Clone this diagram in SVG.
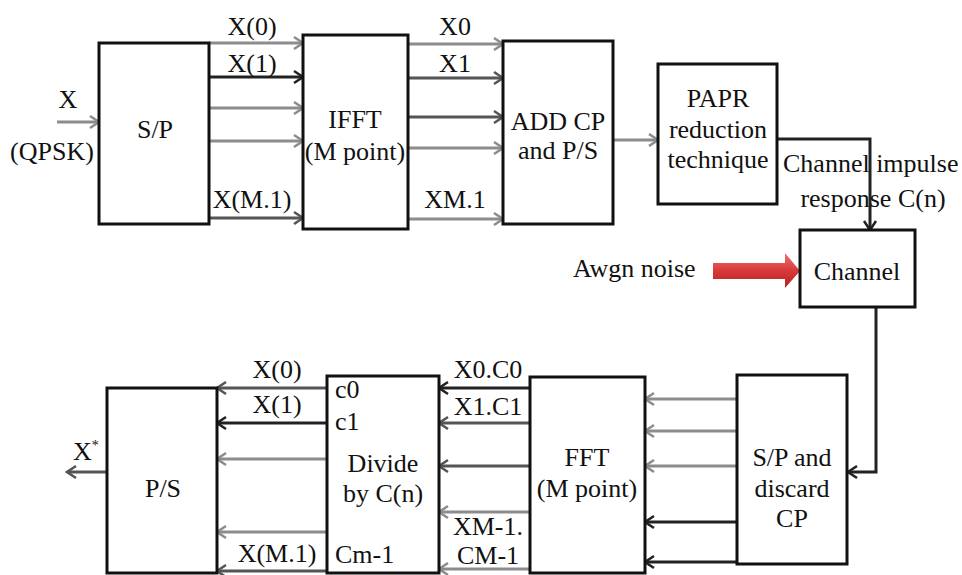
<svg xmlns="http://www.w3.org/2000/svg" width="962" height="575" viewBox="0 0 962 575">
<style>
  .box { fill: #ffffff; stroke: #111111; stroke-width: 3; }
  .t { font-family: "Liberation Serif", "Times New Roman", serif; font-size: 26px; fill: #111111; }
  .m { text-anchor: middle; }
  .g { stroke: #8c8c8c; stroke-width: 3; fill: none; marker-end: url(#ag); }
  .k { stroke: #222222; stroke-width: 3; fill: none; marker-end: url(#ak); }
  .d { stroke: #555555; stroke-width: 3; fill: none; marker-end: url(#ad); }
</style>
<defs>
  <marker id="ag" markerUnits="userSpaceOnUse" markerWidth="14" markerHeight="16" refX="12" refY="8" orient="auto">
    <path d="M3,2 L12,8 L3,14" fill="none" stroke="#8c8c8c" stroke-width="2.5"/>
  </marker>
  <marker id="ak" markerUnits="userSpaceOnUse" markerWidth="14" markerHeight="16" refX="12" refY="8" orient="auto">
    <path d="M3,2 L12,8 L3,14" fill="none" stroke="#222222" stroke-width="2.5"/>
  </marker>
  <marker id="ad" markerUnits="userSpaceOnUse" markerWidth="14" markerHeight="16" refX="12" refY="8" orient="auto">
    <path d="M3,2 L12,8 L3,14" fill="none" stroke="#555555" stroke-width="2.5"/>
  </marker>
  <linearGradient id="red" x1="0" y1="0" x2="0" y2="1">
    <stop offset="0" stop-color="#ef7272"/>
    <stop offset="0.5" stop-color="#d93a3a"/>
    <stop offset="1" stop-color="#b51f22"/>
  </linearGradient>
</defs>

<g id="connectors">
  <line class="g" x1="57" y1="122" x2="99" y2="122"/>
  <line class="g" x1="209" y1="43" x2="303" y2="43"/>
  <line class="k" x1="209" y1="77" x2="303" y2="77"/>
  <line class="g" x1="209" y1="108" x2="303" y2="108"/>
  <line class="g" x1="209" y1="141" x2="303" y2="141"/>
  <line class="d" x1="209" y1="218" x2="303" y2="218"/>
  <line class="g" x1="408" y1="44" x2="503" y2="44"/>
  <line class="d" x1="408" y1="78" x2="503" y2="78"/>
  <line class="d" x1="408" y1="117" x2="503" y2="117"/>
  <line class="g" x1="408" y1="148" x2="503" y2="148"/>
  <line class="g" x1="408" y1="219" x2="503" y2="219"/>
  <line class="g" x1="613" y1="140" x2="658" y2="140"/>
  <path class="k" d="M777,139 H870 V230"/>
  <path class="k" d="M876,307 V472 H848"/>
  <line class="g" x1="737" y1="399" x2="645" y2="399"/>
  <line class="g" x1="737" y1="431" x2="645" y2="431"/>
  <line class="g" x1="737" y1="466" x2="645" y2="466"/>
  <line class="k" x1="737" y1="522" x2="645" y2="522"/>
  <line class="k" x1="737" y1="562" x2="645" y2="562"/>
  <line class="k" x1="530" y1="388" x2="439" y2="388"/>
  <line class="d" x1="530" y1="423" x2="439" y2="423"/>
  <line class="d" x1="530" y1="466" x2="439" y2="466"/>
  <line class="g" x1="530" y1="512" x2="439" y2="512"/>
  <line class="g" x1="530" y1="569" x2="439" y2="569"/>
  <line class="d" x1="327" y1="388" x2="217" y2="388"/>
  <line class="k" x1="327" y1="423" x2="217" y2="423"/>
  <line class="g" x1="327" y1="459" x2="217" y2="459"/>
  <line class="g" x1="327" y1="532" x2="217" y2="532"/>
  <line class="d" x1="327" y1="571" x2="217" y2="571"/>
  <line class="d" x1="107" y1="472" x2="67" y2="472"/>
  <polygon points="713,263 785,263 785,253 800,271 785,288 785,279 713,279" fill="url(#red)"/>
</g>

<g id="labels">
  <text class="t m" x="68" y="108">X</text>
  <text class="t m" x="52" y="160">(QPSK)</text>
  <text class="t m" x="252" y="35">X(0)</text>
  <text class="t m" x="252" y="72">X(1)</text>
  <text class="t m" x="252" y="208">X(M.1)</text>
  <text class="t m" x="455" y="35">X0</text>
  <text class="t m" x="455" y="72">X1</text>
  <text class="t m" x="455" y="208">XM.1</text>
  <text class="t" x="783" y="172">Channel impulse</text>
  <text class="t m" x="873" y="207">response C(n)</text>
  <text class="t" x="573" y="277">Awgn noise</text>
  <text class="t m" x="488" y="378">X0.C0</text>
  <text class="t m" x="488" y="415">X1.C1</text>
  <text class="t m" x="488" y="535">XM-1.</text>
  <text class="t m" x="488" y="564">CM-1</text>
  <text class="t m" x="277" y="378">X(0)</text>
  <text class="t m" x="277" y="413">X(1)</text>
  <text class="t m" x="277" y="562">X(M.1)</text>
  <text class="t" x="73" y="460">X<tspan font-size="14" dy="-10">*</tspan></text>
</g>

<g id="sp">
  <rect class="box" x="99" y="43" width="110" height="181"/>
  <text class="t m" x="155" y="138">S/P</text>
</g>
<g id="ifft">
  <rect class="box" x="303" y="35" width="105" height="194"/>
  <text class="t m" x="355" y="128">IFFT</text>
  <text class="t m" x="355" y="160">(M point)</text>
</g>
<g id="addcp">
  <rect class="box" x="503" y="41" width="110" height="183"/>
  <text class="t m" x="558" y="130">ADD CP</text>
  <text class="t m" x="558" y="159">and P/S</text>
</g>
<g id="papr">
  <rect class="box" x="658" y="64" width="119" height="140"/>
  <text class="t m" x="718" y="107">PAPR</text>
  <text class="t m" x="718" y="138">reduction</text>
  <text class="t m" x="718" y="168">technique</text>
</g>
<g id="channel">
  <rect class="box" x="800" y="230" width="115" height="77"/>
  <text class="t m" x="857" y="280">Channel</text>
</g>
<g id="spdiscard">
  <rect class="box" x="737" y="375" width="110" height="189"/>
  <text class="t m" x="792" y="466">S/P and</text>
  <text class="t m" x="792" y="497">discard</text>
  <text class="t m" x="792" y="527">CP</text>
</g>
<g id="fft">
  <rect class="box" x="530" y="377" width="115" height="196"/>
  <text class="t m" x="587" y="466">FFT</text>
  <text class="t m" x="587" y="497">(M point)</text>
</g>
<g id="divide">
  <rect class="box" x="327" y="376" width="112" height="197"/>
  <text class="t" x="335" y="398">c0</text>
  <text class="t" x="335" y="430">c1</text>
  <text class="t m" x="383" y="472">Divide</text>
  <text class="t m" x="383" y="502">by C(n)</text>
  <text class="t" x="335" y="563">Cm-1</text>
</g>
<g id="ps">
  <rect class="box" x="107" y="388" width="110" height="185"/>
  <text class="t m" x="163" y="497">P/S</text>
</g>
</svg>
